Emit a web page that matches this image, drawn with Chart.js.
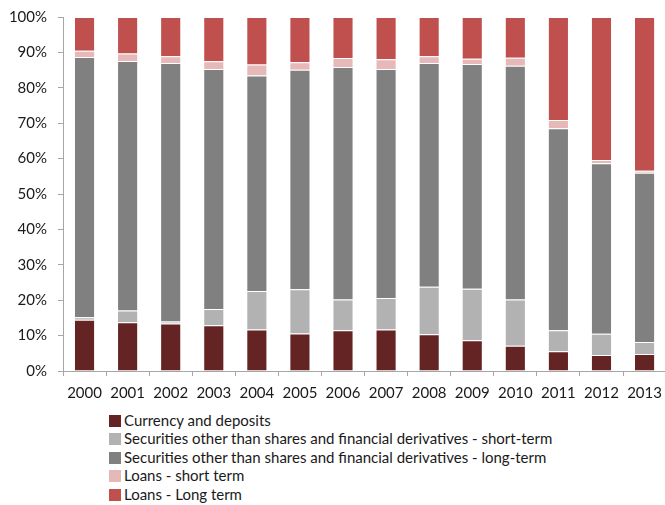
<!DOCTYPE html>
<html>
<head>
<meta charset="utf-8">
<script src="https://cdn.jsdelivr.net/npm/chart.js@4"></script>
<style>
  html, body { margin: 0; padding: 0; background: #fff; overflow: hidden; }
  #wrap { position: relative; width: 665px; height: 505px; overflow: hidden; }
  #box { position: absolute; left: 0; top: 0; width: 670px; height: 405px; }
  #legend { position: absolute; left: 109px; top: 411px; font-family: Lato, sans-serif; font-size: 15px; color: #1a1a1a; }
  #legend div { height: 18.4px; line-height: 18.4px; white-space: nowrap; }
  #legend span { display: inline-block; width: 12px; height: 12px; margin-right: 3px; vertical-align: -1px; }
</style>
</head>
<body>
<div id="wrap">
  <div id="box"><canvas id="chart"></canvas></div>
  <div id="legend"></div>
</div>
<script>
var years = ['2000','2001','2002','2003','2004','2005','2006','2007','2008','2009','2010','2011','2012','2013'];
var currency   = [14.5, 13.8, 13.4, 12.9, 11.7, 10.6, 11.5, 11.7, 10.4,  8.7,  7.1,  5.6,  4.5,  4.8];
var secShort   = [ 0.7,  3.3,  0.6,  4.6, 10.9, 12.5,  8.7,  8.9, 13.4, 14.5, 13.1,  5.9,  6.0,  3.4];
var secLong    = [73.5, 70.5, 73.0, 67.8, 60.9, 62.0, 65.7, 64.7, 63.2, 63.5, 66.0, 57.1, 48.2, 47.8];
var loansShort = [ 1.8,  2.1,  1.9,  2.2,  3.1,  2.1,  2.5,  2.8,  1.9,  1.5,  2.3,  2.3,  0.9,  0.6];
var loansLong  = [ 9.5, 10.3, 11.1, 12.5, 13.4, 12.8, 11.6, 11.9, 11.1, 11.8, 11.5, 29.1, 40.4, 43.4];

var seriesNames = [
  'Currency and deposits',
  'Securities other than shares and financial derivatives - short-term',
  'Securities other than shares and financial derivatives - long-term',
  'Loans - short term',
  'Loans - Long term'
];
var colors = ['#632423', '#b2b2b2', '#808080', '#e6b9b8', '#c0504d'];
var values = [currency, secShort, secLong, loansShort, loansLong];

var datasets = values.map(function(v, i) {
  return {
    label: seriesNames[i],
    data: v,
    backgroundColor: colors[i],
    borderColor: 'rgba(255,255,255,0.35)',
    borderWidth: 1,
    barPercentage: 0.49,
    categoryPercentage: 1
  };
});

var tickFont = { family: 'Lato, sans-serif', size: 15 };

var chart = new Chart(document.getElementById('chart'), {
  type: 'bar',
  data: { labels: years, datasets: datasets },
  options: {
    responsive: true,
    maintainAspectRatio: false,
    animation: false,
    layout: { padding: { top: 17, right: 1, bottom: 0, left: 0 } },
    plugins: { legend: { display: false }, tooltip: { enabled: false } },
    scales: {
      x: {
        stacked: true,
        grid: { display: true, drawOnChartArea: false, offset: true, tickLength: 5, color: '#a6a6a6' },
        border: { color: '#a6a6a6' },
        ticks: { font: tickFont, color: '#1a1a1a', padding: 8, maxRotation: 0 },
        afterFit: function(s) { s.height = 34; }
      },
      y: {
        stacked: true,
        min: 0,
        max: 100,
        grid: { display: true, drawOnChartArea: false, tickLength: 5, color: '#a6a6a6' },
        border: { color: '#a6a6a6' },
        ticks: { stepSize: 10, font: { family: 'Lato, sans-serif', size: 15, lineHeight: 0.8 },
          color: '#1a1a1a', padding: 11,
          callback: function(v) { return v + '%'; } },
        afterFit: function(s) { s.width = 63; }
      }
    }
  }
});

var lg = document.getElementById('legend');
seriesNames.forEach(function(n, i) {
  var row = document.createElement('div');
  var sw = document.createElement('span');
  sw.style.background = colors[i];
  row.appendChild(sw);
  row.appendChild(document.createTextNode(n));
  lg.appendChild(row);
});
</script>
</body>
</html>
